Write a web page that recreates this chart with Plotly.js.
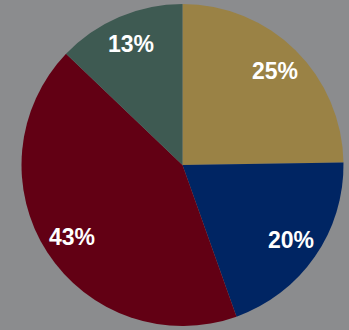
<!DOCTYPE html>
<html><head><meta charset="utf-8">
<script src="https://cdn.plot.ly/plotly-3.0.1.min.js"></script>
<style>html,body{margin:0;padding:0;background:#8b8c8e;}</style>
</head><body>
<div id="chart" style="width:349px;height:330px;"></div>
<script>
var categories = ['A', 'B', 'C', 'D'];
var values = [25, 20, 43, 13];
var labelsText = ['25%', '20%', '43%', '13%'];
var colors = ['#9A8245', '#002563', '#620014', '#3E5A52'];

var W = 349, H = 330;
var margin = {l: 21, r: 5, t: 4, b: 4};
var plotW = W - margin.l - margin.r, plotH = H - margin.t - margin.b;
var R = Math.min(plotW, plotH) / 2;
var labelFrac = 0.82;

var total = values.reduce(function(a, b) { return a + b; }, 0);
var cum = 0;
var annotations = values.map(function(v, i) {
  var mid = (cum + v / 2) / total * 2 * Math.PI;
  cum += v;
  var rx = labelFrac * R / plotW, ry = labelFrac * R / plotH;
  return {
    xref: 'paper', yref: 'paper',
    x: 0.5 + rx * Math.sin(mid),
    y: 0.5 + ry * Math.cos(mid),
    text: labelsText[i], showarrow: false,
    xanchor: 'center', yanchor: 'middle',
    font: {family: 'Liberation Sans, Arial, sans-serif', size: 23, color: '#ffffff', weight: 'bold'}
  };
});

Plotly.newPlot('chart', [{
  type: 'pie',
  labels: categories,
  values: values,
  textinfo: 'none',
  sort: false,
  direction: 'clockwise',
  rotation: 0,
  marker: {colors: colors, line: {width: 0}},
  hoverinfo: 'none'
}], {
  width: W, height: H,
  margin: margin,
  showlegend: false,
  annotations: annotations,
  paper_bgcolor: '#8b8c8e',
  plot_bgcolor: '#8b8c8e'
}, {displayModeBar: false, staticPlot: true});
</script>
</body></html>
